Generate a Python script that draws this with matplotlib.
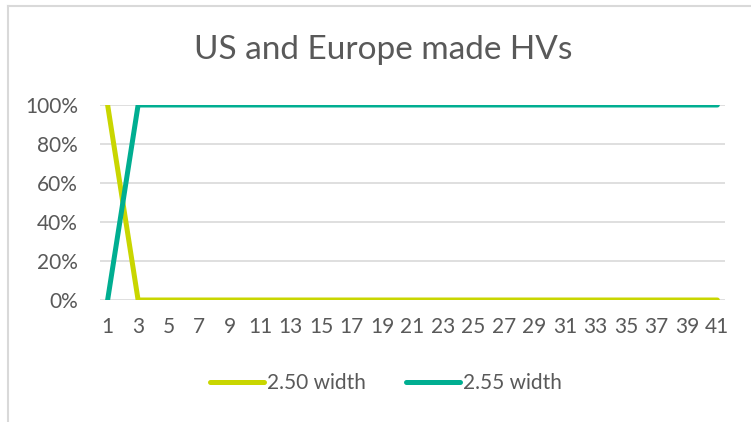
import matplotlib
matplotlib.use("Agg")
import matplotlib.pyplot as plt
from matplotlib.lines import Line2D
from matplotlib.ticker import PercentFormatter

plt.rcParams['font.family'] = ['Lato', 'DejaVu Sans']

# data
x = list(range(1, 42))
w250 = [1.0, 0.5, 0, 0, 0, 0, 0, 0, 0, 0,
        0, 0, 0, 0, 0, 0, 0, 0, 0, 0,
        0, 0, 0, 0, 0, 0, 0, 0, 0, 0,
        0, 0, 0, 0, 0, 0, 0, 0, 0, 0, 0]
w255 = [0.0, 0.5, 1, 1, 1, 1, 1, 1, 1, 1,
        1, 1, 1, 1, 1, 1, 1, 1, 1, 1,
        1, 1, 1, 1, 1, 1, 1, 1, 1, 1,
        1, 1, 1, 1, 1, 1, 1, 1, 1, 1, 1]
labels = ['2.50 width', '2.55 width']
colors = ['#C9D600', '#00AE91']
title = 'US and Europe made HVs'

W, H = 751, 422
fig = plt.figure(figsize=(W/100, H/100), dpi=100)
ax = fig.add_axes([100/W, (H-300)/H, 625/W, 195/H])

for y, lab, c in zip([w250, w255], labels, colors):
    ax.plot(x, y, color=c, lw=3.6, label=lab, solid_capstyle='round',
            solid_joinstyle='miter')

ax.set_xlim(0.5, 41.5)
ax.set_ylim(0, 1)
ax.set_yticks([0, 0.2, 0.4, 0.6, 0.8, 1.0])
ax.yaxis.set_major_formatter(PercentFormatter(1.0, decimals=0))
ax.set_xticks(x[::2])
ax.set_xticklabels([str(v) for v in x[::2]])
ax.grid(axis='y', color='#D9D9D9', lw=1.2)
ax.set_axisbelow(True)
for s in ax.spines.values():
    s.set_visible(False)
ax.tick_params(length=0, labelsize=15, labelcolor='#595959')
ax.tick_params(axis='y', pad=16)
ax.tick_params(axis='x', pad=12)

fig.text(383/W, 1 - 50/H, title, ha='center', va='center',
         fontsize=24, color='#595959')

fig.legend(loc='center', bbox_to_anchor=(386/W, 1 - 383/H), ncol=2,
           frameon=False, fontsize=15, labelcolor='#595959',
           handlelength=2.6, handletextpad=0.15, columnspacing=1.9)

# chart frame (partially visible)
fig.add_artist(Line2D([8/W, 1], [1 - 6/H, 1 - 6/H], color='#D9D9D9', lw=1.5))
fig.add_artist(Line2D([8/W, 8/W], [0, 1 - 6/H], color='#D9D9D9', lw=1.5))

fig.savefig('out.png', dpi=100)
